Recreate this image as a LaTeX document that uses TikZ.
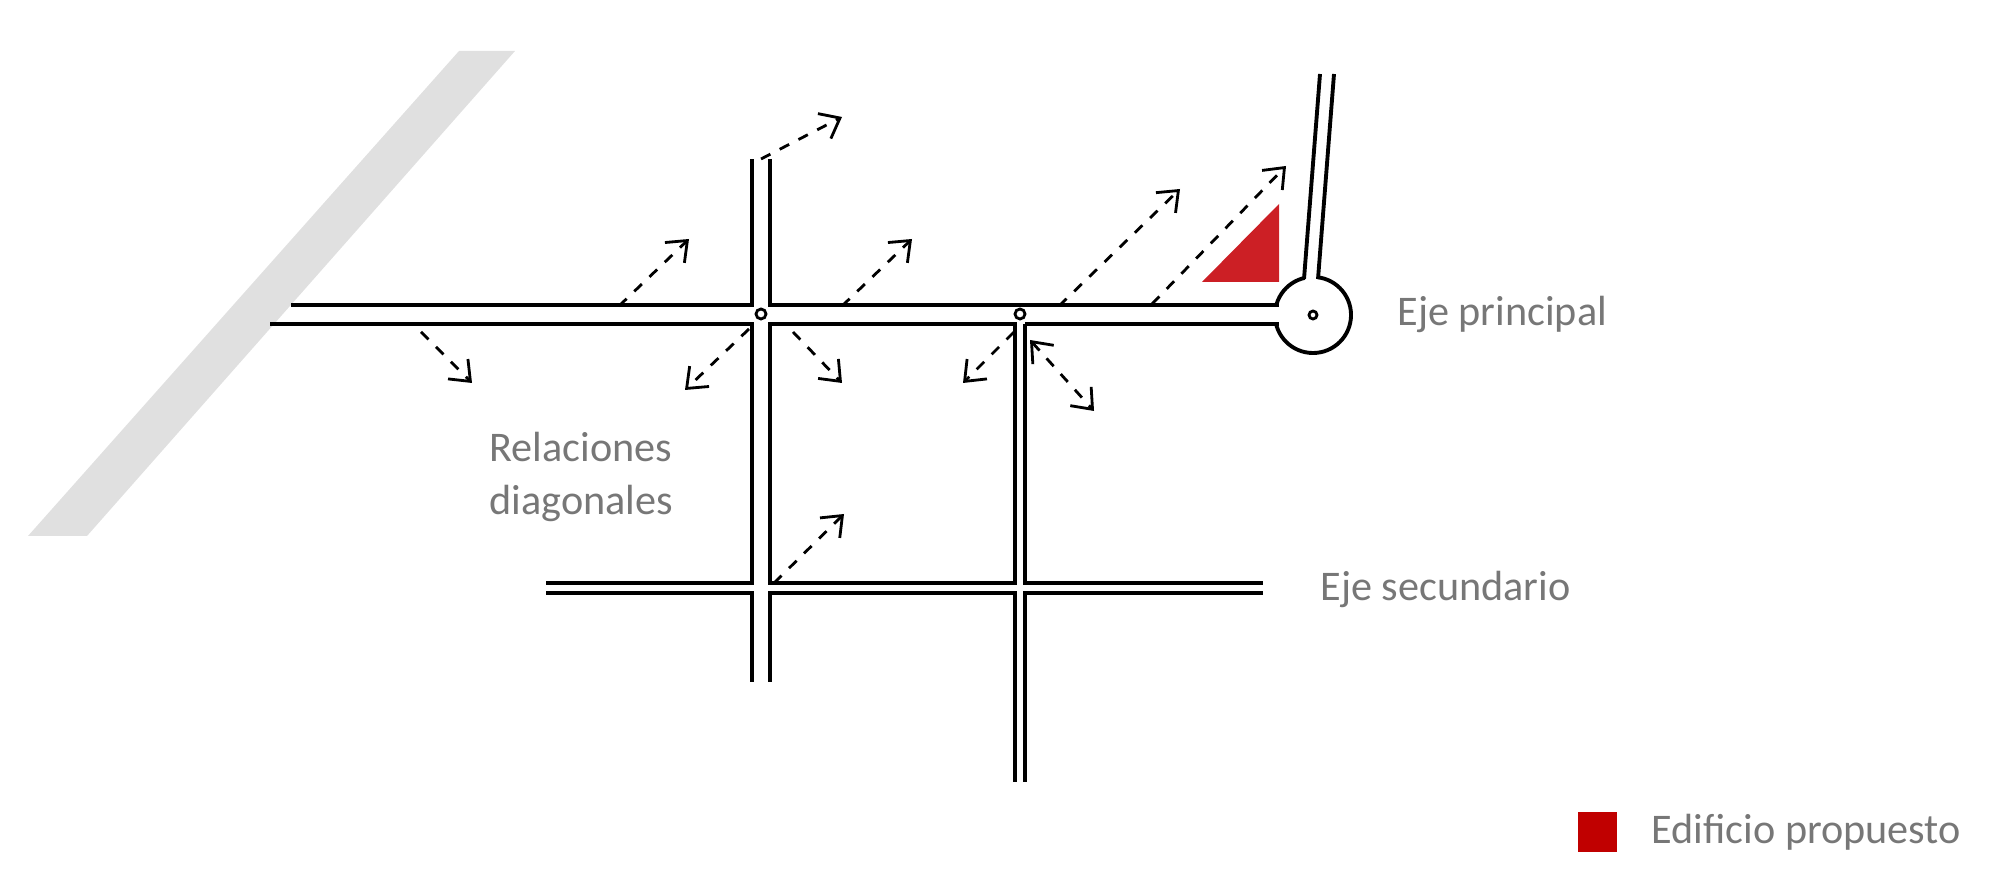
\documentclass[tikz,border=0pt]{standalone}
\usepackage{fontspec}
\setmainfont{Carlito}
\usetikzlibrary{arrows.meta, positioning, calc}
\definecolor{propred}{HTML}{CC1F25}
\definecolor{legred}{HTML}{C00000}
\definecolor{labelgray}{HTML}{777777}
\definecolor{bandgray}{HTML}{E0E0E0}

\begin{document}
\begin{tikzpicture}[x=0.01cm, y=-0.01cm,
    road/.style = {line width=1.1pt, black},
    flow/.style = {dashed, line width=0.8pt, -{Straight Barb[length=5pt, width=8pt]}},
    flowboth/.style = {flow, {Straight Barb[length=5pt, width=8pt]}-{Straight Barb[length=5pt, width=8pt]}},
    label/.style = {anchor=west, text=labelgray, font=\fontsize{12}{15}\selectfont, align=left}]
    \useasboundingbox (0,0) rectangle (2000,871);
    % Band
    \fill [bandgray] (459,51) -- (515,51) -- (87,536) -- (28,536) -- cycle;
    % Roundabout
    \node (hub) [circle, draw, line width=1.1pt, minimum size=0.76cm, inner sep=0pt] at (1313,315) {};
    \fill [white] (1270,307) rectangle (1285,322);
    \fill [white] (1305,268) rectangle (1317,284);
    \node (hubdot) [circle, draw, line width=0.8pt, minimum size=0.08cm, inner sep=0pt] at (hub) {};
    % Main road
    \draw [road] (291,305) -- (752,305) -- (752,159);
    \draw [road] (770,159) -- (770,305) -- (1015,305) -- (1279,305);
    \draw [road] (270,324) -- (752,324) -- (752,583) -- (546,583);
    \draw [road] (770,324) -- (1015,324) -- (1015,583) -- (770,583) -- cycle;
    \draw [road] (1025,324) -- (1279,324);
    \draw [road] (1025,324) -- (1025,583) -- (1263,583);
    \draw [road] (546,593) -- (752,593) -- (752,682);
    \draw [road] (770,682) -- (770,593) -- (1015,593) -- (1015,782);
    \draw [road] (1025,782) -- (1025,593) -- (1263,593);
    \draw [road] (1304,279) -- (1320,74);
    \draw [road] (1318,279) -- (1334,74);
    % Junctions
    \node (junA) [circle, draw, fill=white, line width=0.8pt, minimum size=0.1cm, inner sep=0pt] at (761,314) {};
    \node (junB) [circle, draw, fill=white, line width=0.8pt, minimum size=0.1cm, inner sep=0pt] at (1020,314) {};
    % Proposed building
    \fill [propred] (1202,282) -- (1279,282) -- (1279,204) -- cycle;
    % Flow ends
    \coordinate (s1) at (761,159);  \coordinate (e1) at (842,117);
    \coordinate (s2) at (619,306);  \coordinate (e2) at (689,239);
    \coordinate (s3) at (842,306);  \coordinate (e3) at (912,239);
    \coordinate (s4) at (1059,306); \coordinate (e4) at (1180,189);
    \coordinate (s5) at (1152,304); \coordinate (e5) at (1286,166);
    \coordinate (s6) at (421,332);  \coordinate (e6) at (472,383);
    \coordinate (s7) at (749,329);  \coordinate (e7) at (685,390);
    \coordinate (s8) at (793,332);  \coordinate (e8) at (842,383);
    \coordinate (s9) at (1014,332); \coordinate (e9) at (963,383);
    \coordinate (s10) at (1030,340); \coordinate (e10) at (1094,411);
    \coordinate (s11) at (774,583); \coordinate (e11) at (844,514);
    \foreach \i in {1,...,9,11}
        \draw [flow] (s\i) -- (e\i);
    \draw [flowboth] (s10) -- (e10);
    % Labels
    \node (mainlbl) [label] at (1385,314) {Eje principal};
    \node (diaglbl) [label] at (477,477) {Relaciones\\diagonales};
    \node (seclbl) [label] at (1308,589) {Eje secundario};
    \node (legbox) [fill=legred, minimum size=0.39cm, inner sep=0pt] at (1597,832) {};
    \node (leglbl) [label, right=0.22cm of legbox] {Edificio propuesto};
\end{tikzpicture}
\end{document}
